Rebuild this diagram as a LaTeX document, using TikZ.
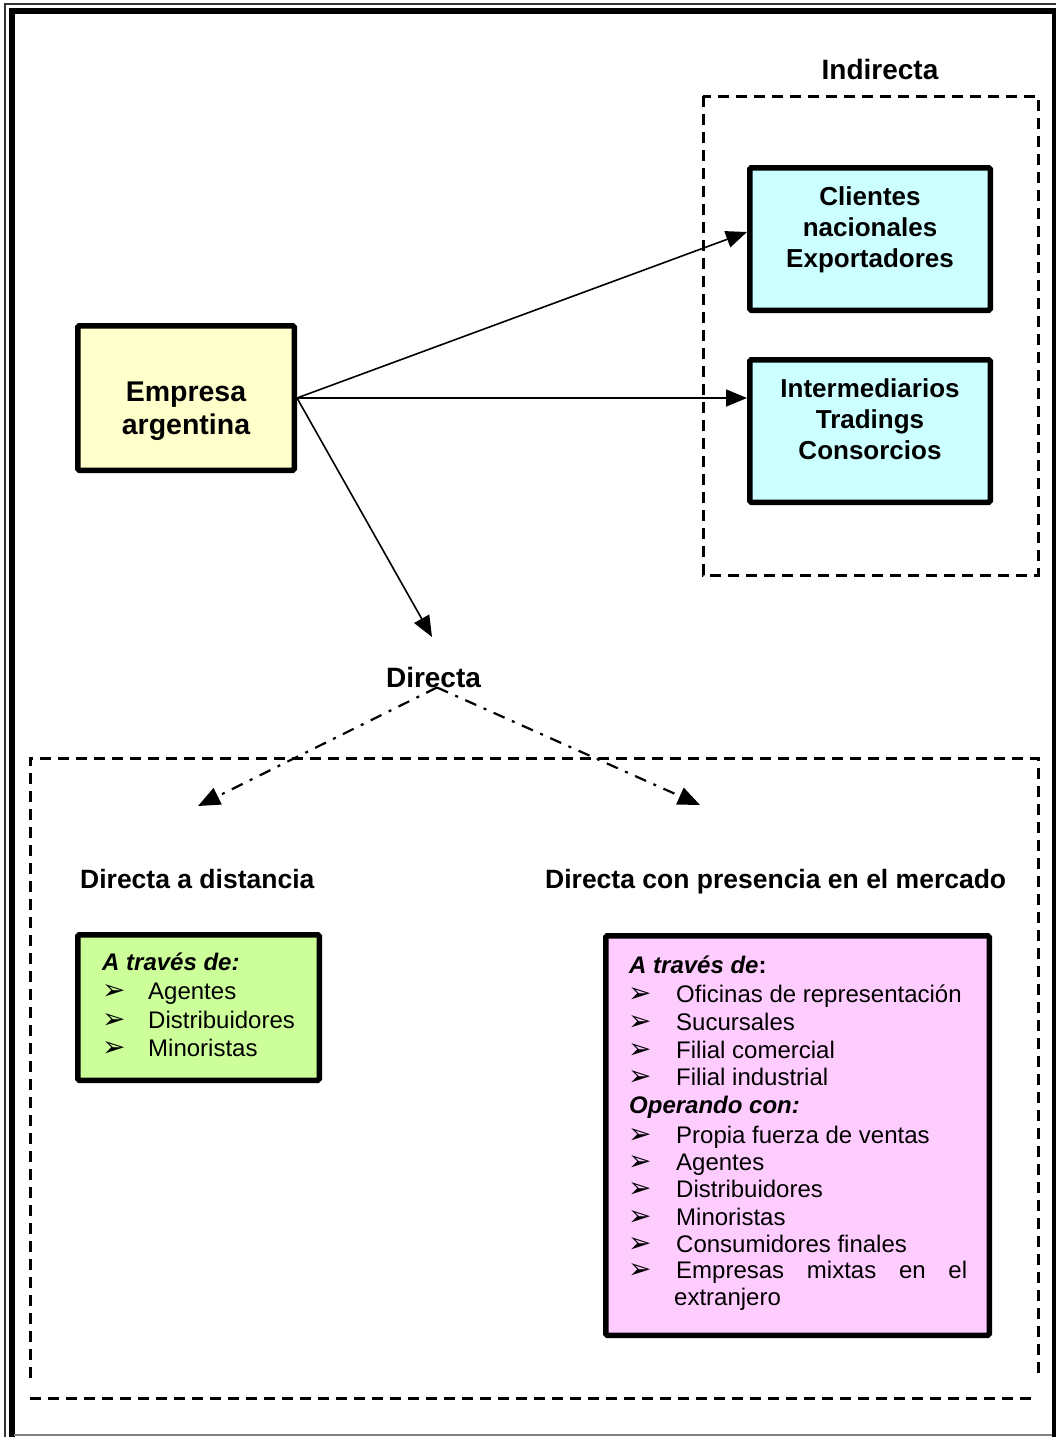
\documentclass[tikz,border=0pt]{standalone}
\usepackage{fontspec}
\setmainfont{Liberation Sans}
\newfontfamily\dejavu{DejaVu Sans}
\usetikzlibrary{arrows.meta}
\definecolor{yel}{HTML}{FFFFCC}
\definecolor{cya}{HTML}{CCFFFF}
\definecolor{gre}{HTML}{CCFF99}
\definecolor{pin}{HTML}{FFCCFF}
\tikzset{
  box/.style={draw=black, line width=5.5pt, rounded corners=1.5pt, inner sep=0pt},
  dbox/.style={draw=black, line width=3pt, dash pattern=on 11pt off 7pt},
  arr/.style={line width=1.6pt, -{Triangle[length=21pt,width=17pt]}},
  darr/.style={line width=2.2pt, dash pattern=on 12pt off 8pt on 3pt off 8pt, -{Triangle[length=22pt,width=18pt]}},
  btxt/.style={anchor=base, inner sep=0pt, font=\bfseries\fontsize{26}{31}\selectfont},
  etxt/.style={anchor=base, inner sep=0pt, font=\bfseries\fontsize{28.5}{34}\selectfont},
  lbl/.style={anchor=base, inner sep=0pt, font=\bfseries\fontsize{28}{32}\selectfont},
  hdr/.style={anchor=base west, inner sep=0pt, font=\bfseries\fontsize{26.5}{30}\selectfont},
  item/.style={anchor=base west, inner sep=0pt, font=\fontsize{24}{28}\selectfont},
  bul/.style={anchor=base west, inner sep=0pt, font=\dejavu\fontsize{28}{28}\selectfont},
  head/.style={anchor=base west, inner sep=0pt, font=\bfseries\itshape\fontsize{24}{28}\selectfont},
}
\begin{document}
\begin{tikzpicture}[x=1pt,y=-1pt]
\useasboundingbox (0,0) rectangle (1056,1437);
\fill[white] (0,0) rectangle (1056,1437);
% outer frame
\draw[line width=1.5pt, black!80] (5,1440) -- (5,4) -- (1060,4);
\draw[line width=5.5pt] (12,1440) -- (12,11) -- (1055,11) -- (1055,1440);
\draw[line width=1.5pt, black!50] (14,1435) -- (1052,1435);

% dashed groups
\draw[dbox] (703,96) rectangle (1038,575);
\draw[dbox] (30,1378) -- (30,758) -- (1038,758) -- (1038,1378);
\draw[dbox] (30,1398) -- (1038,1398);

% boxes
\node[box, fill=yel, minimum width=216.5pt, minimum height=144.5pt] (emp) at (186,398) {};
\node[box, fill=cya, minimum width=240.5pt, minimum height=142.5pt] (cli) at (870,239) {};
\node[box, fill=cya, minimum width=240.5pt, minimum height=142.5pt] (int) at (870,431) {};
\node[box, fill=gre, minimum width=241.5pt, minimum height=145.5pt] (grn) at (198.5,1007.5) {};
\node[box, fill=pin, minimum width=383.5pt, minimum height=399.5pt] (pnk) at (797.5,1135.5) {};

% box texts
\node[etxt] (e1) at (186,401) {Empresa};
\node[etxt] (e2) at (186,434) {argentina};
\node[btxt] (c1) at (870,205) {Clientes};
\node[btxt] (c2) at (870,236) {nacionales};
\node[btxt] (c3) at (870,267) {Exportadores};
\node[btxt] (i1) at (870,397) {Intermediarios};
\node[btxt] (i2) at (870,428) {Tradings};
\node[btxt] (i3) at (870,459) {Consorcios};

% labels
\node[lbl] (ind) at (880,80) {Indirecta};
\node[lbl] (dir) at (433.5,687) {Directa};
\node[hdr] (h1) at (80,888) {Directa a distancia};
\node[hdr] (h2) at (545,888) {Directa con presencia en el mercado};

% green list
\node[head] (g0) at (102,970) {A través de:};
\node[bul] (gb1) at (102,999.5) {➢};
\node[item] (g1) at (148,999.5) {Agentes};
\node[bul] (gb2) at (102,1028) {➢};
\node[item] (g2) at (148,1028) {Distribuidores};
\node[bul] (gb3) at (102,1056.5) {➢};
\node[item] (g3) at (148,1056.5) {Minoristas};

% pink list
\node[head] (p0) at (629,973) {A través de\upshape:};
\node[bul] (pb1) at (628,1002) {➢};
\node[item] (p1) at (676,1002) {Oficinas de representación};
\node[bul] (pb2) at (628,1030) {➢};
\node[item] (p2) at (676,1030) {Sucursales};
\node[bul] (pb3) at (628,1058) {➢};
\node[item] (p3) at (676,1058) {Filial comercial};
\node[bul] (pb4) at (628,1085) {➢};
\node[item] (p4) at (676,1085) {Filial industrial};
\node[head] (p5) at (629,1113) {Operando con:};
\node[bul] (pb6) at (628,1143) {➢};
\node[item] (p6) at (676,1143) {Propia fuerza de ventas};
\node[bul] (pb7) at (628,1170) {➢};
\node[item] (p7) at (676,1170) {Agentes};
\node[bul] (pb8) at (628,1197) {➢};
\node[item] (p8) at (676,1197) {Distribuidores};
\node[bul] (pb9) at (628,1225) {➢};
\node[item] (p9) at (676,1225) {Minoristas};
\node[bul] (pb10) at (628,1252) {➢};
\node[item] (p10) at (676,1252) {Consumidores finales};
\node[bul] (pb11) at (628,1278) {➢};
\node[item] (p11) at (676,1278) {\hbox to 291pt{Empresas\hfill mixtas\hfill en\hfill el}};
\node[item] (p12) at (674,1305) {extranjero};

% connectors
\coordinate (dtip) at (432,637);
\coordinate (dl) at (198,806);
\coordinate (dr) at (700,805);
\draw[arr] (emp.east) -- ([yshift=7pt]cli.west);
\draw[arr] (emp.east) -- (emp.east -| int.west);
\draw[arr] (emp.east) -- (dtip);
\draw[darr] ([xshift=3.5pt]dir.south) -- (dl);
\draw[darr] ([xshift=3.5pt]dir.south) -- (dr);
\end{tikzpicture}
\end{document}
